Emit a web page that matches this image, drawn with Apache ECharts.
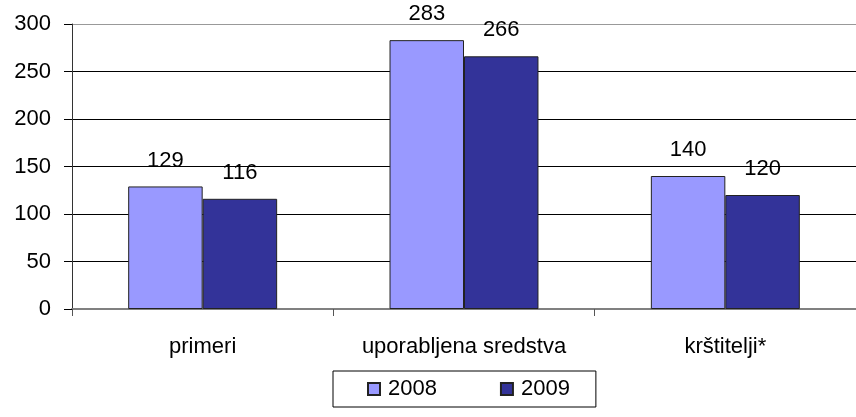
<!DOCTYPE html>
<html>
<head>
<meta charset="utf-8">
<script src="https://cdn.jsdelivr.net/npm/echarts@6/dist/echarts.min.js"></script>
<style>
  html, body { margin: 0; padding: 0; background: #fff; }
  #chart { width: 856px; height: 417px; }
</style>
</head>
<body>
<div id="chart"></div>
<script>
  // podatki
  const categories = ['primeri', 'uporabljena sredstva', 'krštitelji*']
  const years = ['2008', '2009']
  const values2008 = [129, 283, 140]
  const values2009 = [116, 266, 120]
  const yTicks = [0, 50, 100, 150, 200, 250, 300]

  const colors = ['#9999FF', '#333399']
  const font = 'Liberation Sans, Arial, sans-serif'
  const fs = 22

  let myChart = echarts.init(document.getElementById('chart'))

  let option = {
    backgroundColor: '#ffffff',
    animation: false,
    grid: {
      left: 72,
      top: 24,
      width: 794,
      height: 285,
      containLabel: false
    },
    legend: {
      data: years,
      left: 333,
      top: 371,
      padding: [7, 26, 7, 34],
      itemGap: 63,
      itemWidth: 12,
      itemHeight: 12,
      icon: 'rect',
      borderColor: '#000',
      borderWidth: 1,
      textStyle: { fontFamily: font, fontSize: fs, color: '#000', padding: [0, 0, 0, 3] }
    },
    xAxis: {
      type: 'category',
      data: categories,
      axisLine: { show: true, lineStyle: { color: '#808080', width: 2 } },
      axisTick: { show: true, alignWithLabel: false, length: 7, lineStyle: { color: '#555' } },
      axisLabel: { interval: 0, fontFamily: font, fontSize: fs, color: '#000', margin: 27 },
      splitLine: { show: false }
    },
    yAxis: {
      type: 'value',
      min: yTicks[0],
      max: yTicks[yTicks.length - 1],
      interval: 50,
      axisLine: { show: true, lineStyle: { color: '#333' } },
      axisTick: { show: true, length: 8, lineStyle: { color: '#000' } },
      axisLabel: { fontFamily: font, fontSize: fs, color: '#000', margin: 21 },
      splitLine: {
        show: true,
        lineStyle: {
          color: yTicks.map(function (t) { return t === 300 ? '#999999' : '#000000' }),
          width: 1
        }
      }
    },
    series: [
      {
        name: years[0],
        type: 'bar',
        data: values2008,
        barGap: '0%',
        barCategoryGap: '43%',
        itemStyle: { color: colors[0], borderColor: '#222', borderWidth: 1 },
        label: { show: true, position: 'top', distance: 15, fontFamily: font, fontSize: fs, color: '#000' }
      },
      {
        name: years[1],
        type: 'bar',
        data: values2009,
        barGap: '0%',
        barCategoryGap: '43%',
        itemStyle: { color: colors[1], borderColor: '#222', borderWidth: 1 },
        label: { show: true, position: 'top', distance: 15, fontFamily: font, fontSize: fs, color: '#000' }
      }
    ]
  }

  myChart.setOption(option)
</script>
</body>
</html>
